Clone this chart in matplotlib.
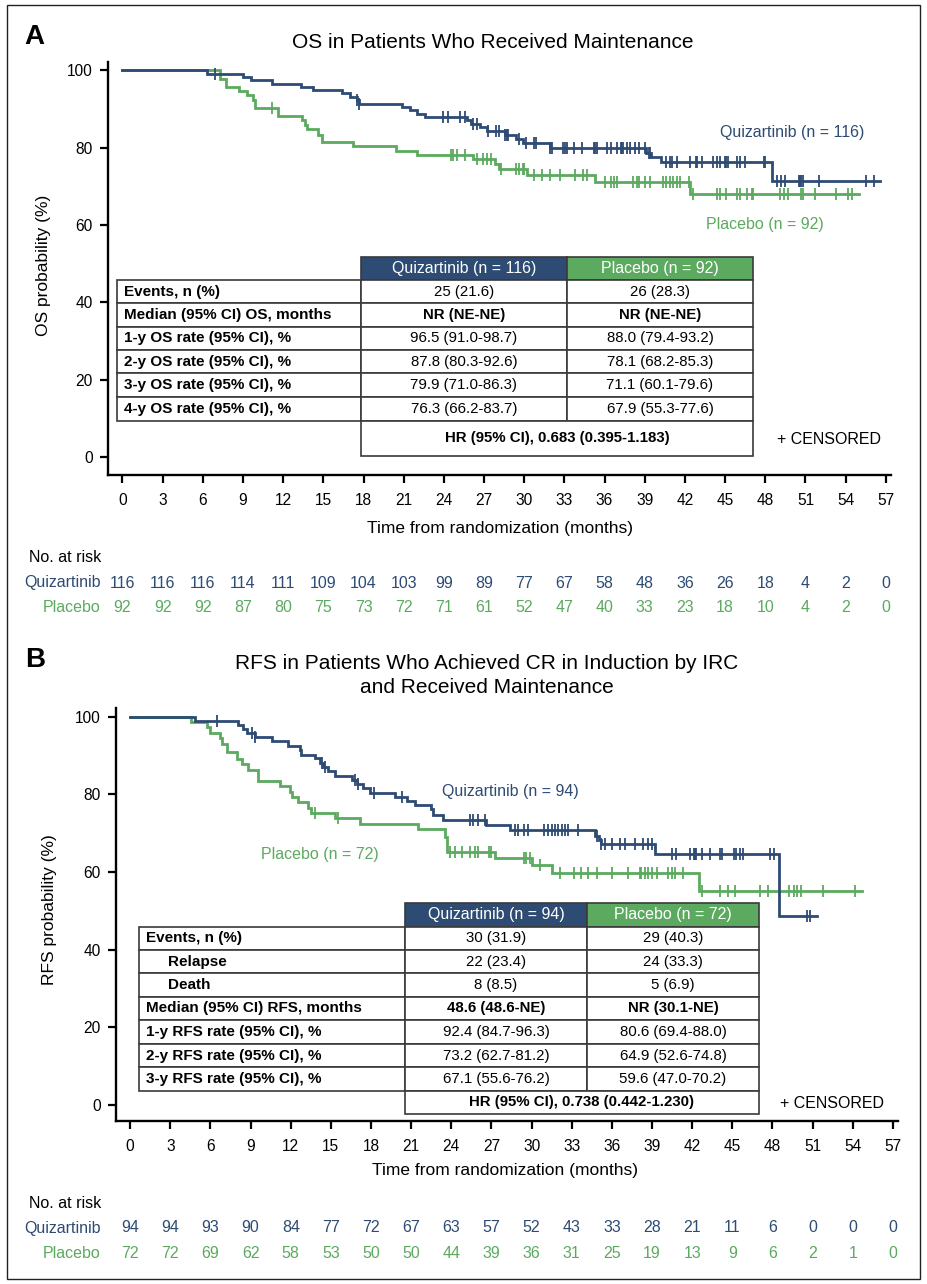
import numpy as np
import matplotlib
matplotlib.use('Agg')
import matplotlib.pyplot as plt
from matplotlib.patches import Rectangle
from matplotlib.transforms import blended_transform_factory

# ---- colours / fonts ----
BLUE = '#2D4B73'
GREEN = '#5BAA5F'
EDGE = '#3a3a3a'
plt.rcParams['font.family'] = ['Liberation Sans', 'DejaVu Sans']
NARROW = ['Liberation Sans Narrow', 'Liberation Sans']

# ---- common axis data ----
months = np.arange(0, 58, 3)
yticks = [0, 20, 40, 60, 80, 100]

# ---- Panel A: OS (step start times and survival %) ----
os_q_t = [0, 6.29, 8.97, 9.57, 11.2, 13.3, 14.25, 16.4, 17.0, 17.5, 17.7, 20.85, 21.5, 21.97,
          22.6, 25.7, 26.0, 26.7, 27.2, 28.6, 29.4, 29.9, 31.9, 39.1, 39.5, 40.2, 48.5]
os_q_s = [100, 99.1, 98.3, 97.4, 96.5, 95.7, 94.8, 94.0, 93.1, 92.2, 91.3, 90.5, 89.7, 88.6,
          87.8, 87.0, 86.1, 85.2, 84.2, 83.2, 82.2, 81.1, 79.9, 78.7, 77.5, 76.3, 71.4]
os_q_end = 56.6
os_q_cens = [6.9, 17.5, 17.7, 23.96, 24.3, 25.2, 25.6, 26.2, 26.45, 27.3, 27.9, 28.1, 28.6, 28.7,
             28.8, 29.6, 30.1, 30.7, 30.9, 31.9, 32.05, 32.9, 33.05, 33.2, 33.7, 34.3, 35.2, 35.3,
             35.4, 36.2, 36.5, 36.9, 37.2, 37.3, 37.4, 37.7, 37.9, 38.3, 38.6, 39.0, 39.3, 39.4,
             40.6, 40.9, 41.0, 41.4, 42.4, 42.8, 42.9, 43.3, 44.1, 44.4, 44.6, 45.0, 45.1, 45.2,
             45.9, 46.1, 46.5, 47.9, 48.0, 48.9, 49.2, 49.5, 50.5, 50.6, 50.7, 50.8, 52.0, 55.5, 56.1]

os_p_t = [0, 7.28, 7.73, 8.73, 9.27, 9.72, 9.9, 11.6, 13.4, 13.6, 13.75, 14.6, 14.9, 17.2,
          20.4, 22.0, 26.2, 27.8, 28.1, 30.2, 35.3, 42.4]
os_p_s = [100, 97.8, 95.7, 94.6, 93.5, 92.4, 90.2, 88.1, 87.0, 85.8, 84.7, 83.2, 81.3, 80.3,
          79.2, 78.1, 77.0, 75.7, 74.4, 73.0, 71.1, 67.9]
os_p_end = 55.0
os_p_cens = [11.2, 24.5, 24.7, 25.0, 25.6, 26.45, 26.95, 27.2, 27.5, 28.3, 29.4, 29.6, 29.9,
             30.0, 30.7, 31.3, 31.9, 32.7, 33.8, 34.4, 34.7, 36.0, 36.5, 36.7, 36.9, 38.1, 38.4,
             38.6, 39.0, 39.4, 40.4, 40.6, 40.9, 41.1, 41.4, 41.6, 42.3, 42.6, 44.4, 44.6, 45.1,
             45.9, 46.1, 46.6, 47.0, 47.1, 49.1, 49.4, 49.7, 50.7, 50.8, 51.7, 53.3, 54.2, 54.5]

os_risk_q = [116, 116, 116, 114, 111, 109, 104, 103, 99, 89, 77, 67, 58, 48, 36, 26, 18, 4, 2, 0]
os_risk_p = [92, 92, 92, 87, 80, 75, 73, 72, 71, 61, 52, 47, 40, 33, 23, 18, 10, 4, 2, 0]

os_labels = ['Events, n (%)', 'Median (95% CI) OS, months', '1-y OS rate (95% CI), %',
             '2-y OS rate (95% CI), %', '3-y OS rate (95% CI), %', '4-y OS rate (95% CI), %']
os_vals_q = ['25 (21.6)', 'NR (NE-NE)', '96.5 (91.0-98.7)', '87.8 (80.3-92.6)',
             '79.9 (71.0-86.3)', '76.3 (66.2-83.7)']
os_vals_p = ['26 (28.3)', 'NR (NE-NE)', '88.0 (79.4-93.2)', '78.1 (68.2-85.3)',
             '71.1 (60.1-79.6)', '67.9 (55.3-77.6)']
os_hr = 'HR (95% CI), 0.683 (0.395-1.183)'

# ---- Panel B: RFS ----
rfs_q_t = [0, 4.84, 8.08, 8.45, 8.7, 9.3, 10.57, 11.8, 12.7, 12.8, 13.8, 14.2, 14.4, 14.8, 15.3,
           16.55, 16.95, 17.4, 17.9, 19.8, 20.7, 21.3, 22.5, 22.65, 23.4, 26.6, 28.4, 34.7, 35.0,
           35.2, 39.2, 48.5]
rfs_q_s = [100, 98.9, 97.9, 96.8, 95.7, 94.7, 93.6, 92.4, 91.3, 90.2, 89.2, 88.1, 87.0, 85.9,
           84.8, 83.7, 82.6, 81.5, 80.4, 79.4, 78.3, 77.2, 76.1, 74.7, 73.3, 72.0, 70.9, 69.2,
           68.2, 67.1, 64.7, 48.6]
rfs_q_end = 51.3
rfs_q_cens = [6.46, 9.08, 9.33, 14.3, 14.56, 16.8, 17.05, 18.2, 20.3, 25.4, 25.6, 26.0, 26.5,
              28.75, 29.0, 29.4, 29.75, 30.9, 31.25, 31.5, 31.75, 32.0, 32.25, 32.5, 32.7, 33.5,
              34.9, 35.2, 35.5, 36.0, 36.6, 37.0, 37.7, 38.3, 38.7, 39.0, 40.5, 40.8, 41.8, 42.1,
              42.2, 42.3, 42.7, 43.3, 44.1, 44.2, 45.1, 45.3, 45.6, 45.8, 47.8, 48.1, 50.6, 50.8]

rfs_p_t = [0, 4.52, 5.72, 5.95, 6.7, 6.84, 7.2, 7.96, 8.33, 8.83, 9.57, 11.2, 11.95, 12.1, 12.56,
           13.3, 13.5, 15.3, 17.2, 21.5, 23.55, 23.7, 27.3, 30.0, 31.5, 42.5]
rfs_p_s = [100, 98.6, 97.2, 95.8, 94.4, 93.0, 90.9, 89.0, 87.7, 86.2, 83.4, 82.0, 80.6, 79.2,
           78.0, 76.5, 75.2, 73.9, 72.3, 71.1, 69.1, 65.2, 63.5, 61.9, 59.6, 55.1]
rfs_p_end = 54.7
rfs_p_cens = [13.8, 15.5, 23.9, 24.3, 24.8, 25.4, 25.8, 26.0, 26.8, 26.95, 29.4, 29.6, 29.9,
              30.6, 32.1, 33.2, 33.7, 34.2, 34.9, 36.0, 37.2, 38.1, 38.2, 38.5, 38.7, 39.0,
              39.35, 40.2, 40.5, 40.7, 41.3, 42.7, 44.1, 44.7, 45.2, 47.1, 47.7, 49.2, 49.6,
              49.8, 50.1, 51.8, 54.2]

rfs_risk_q = [94, 94, 93, 90, 84, 77, 72, 67, 63, 57, 52, 43, 33, 28, 21, 11, 6, 0, 0, 0]
rfs_risk_p = [72, 72, 69, 62, 58, 53, 50, 50, 44, 39, 36, 31, 25, 19, 13, 9, 6, 2, 1, 0]

rfs_labels = ['Events, n (%)', 'Relapse', 'Death', 'Median (95% CI) RFS, months',
              '1-y RFS rate (95% CI), %', '2-y RFS rate (95% CI), %', '3-y RFS rate (95% CI), %']
rfs_vals_q = ['30 (31.9)', '22 (23.4)', '8 (8.5)', '48.6 (48.6-NE)', '92.4 (84.7-96.3)',
              '73.2 (62.7-81.2)', '67.1 (55.6-76.2)']
rfs_vals_p = ['29 (40.3)', '24 (33.3)', '5 (6.9)', 'NR (30.1-NE)', '80.6 (69.4-88.0)',
              '64.9 (52.6-74.8)', '59.6 (47.0-70.2)']
rfs_hr = 'HR (95% CI), 0.738 (0.442-1.230)'

# ---- figure, pixel-based layout ----
W, H = 928, 1284
fig = plt.figure(figsize=(W / 100, H / 100), dpi=100)


def px_axes(left, top, right, bottom):
    return fig.add_axes([left / W, 1 - bottom / H, (right - left) / W, (bottom - top) / H])


axA = px_axes(108, 62, 891, 475)
axB = px_axes(116, 708, 898, 1121)
ov = fig.add_axes([0, 0, 1, 1], zorder=5)
ov.set_xlim(0, W)
ov.set_ylim(H, 0)
ov.axis('off')


def km_curve(ax, t, s, t_end, cens, color):
    t = np.asarray(t)
    s = np.asarray(s)
    ax.step(np.append(t, t_end), np.append(s, s[-1]), where='post', color=color, lw=2.0,
            solid_joinstyle='miter')
    cens = np.asarray(cens)
    cs = s[np.searchsorted(t, cens, side='right') - 1]
    ax.plot(cens, cs, ls='none', marker='|', ms=9, mew=1.3, color=color)


def style_axes(ax, xlim, ylim):
    ax.set_xlim(xlim)
    ax.set_ylim(ylim)
    ax.spines[['top', 'right']].set_visible(False)
    ax.spines[['left', 'bottom']].set_linewidth(1.7)
    ax.set_xticks(months)
    ax.set_yticks(yticks)
    ax.tick_params(direction='out', length=5.8, width=1.6, labelsize=11.2)
    ax.tick_params(axis='x', pad=7)
    ax.tick_params(axis='y', pad=5)
    ax.patch.set_alpha(0)


def draw_table(col_x, row_y, headers, labels, vq, vp, bold_row, indent_rows, hr_text):
    x0, x1, x2, x3 = col_x
    for xa, xb, fc, txt in ((x1, x2, BLUE, headers[0]), (x2, x3, GREEN, headers[1])):
        ov.add_patch(Rectangle((xa, row_y[0]), xb - xa, row_y[1] - row_y[0], fc=fc, ec=EDGE, lw=1.2))
        ov.text((xa + xb) / 2, (row_y[0] + row_y[1]) / 2, txt, color='white', ha='center',
                va='center', fontsize=11.5)
    for i, lab in enumerate(labels):
        ya, yb = row_y[i + 1], row_y[i + 2]
        yc = (ya + yb) / 2
        for xa, xb in ((x0, x1), (x1, x2), (x2, x3)):
            ov.add_patch(Rectangle((xa, ya), xb - xa, yb - ya, fc='white', ec=EDGE, lw=1.2))
        indent = 22 if i in indent_rows else 0
        ov.text(x0 + 7 + indent, yc, lab, ha='left', va='center', fontsize=11, fontweight='bold')
        fw = 'bold' if i == bold_row else 'normal'
        ov.text((x1 + x2) / 2, yc, vq[i], ha='center', va='center', fontsize=10.8, fontweight=fw)
        ov.text((x2 + x3) / 2, yc, vp[i], ha='center', va='center', fontsize=10.8, fontweight=fw)
    ya, yb = row_y[-2], row_y[-1]
    ov.add_patch(Rectangle((x1, ya), x3 - x1, yb - ya, fc='white', ec=EDGE, lw=1.2))
    ov.text((x1 + x3) / 2, (ya + yb) / 2, hr_text, ha='center', va='center', fontsize=10.8,
            fontweight='bold')


def risk_table(ax, y_head, y_q, y_p, rq, rp):
    tr = blended_transform_factory(ax.transData, ov.transData)
    ov.text(101, y_head, 'No. at risk', ha='right', va='center', fontsize=11.5)
    ov.text(101, y_q, 'Quizartinib', ha='right', va='center', fontsize=11.5, color=BLUE)
    ov.text(101, y_p, 'Placebo', ha='right', va='center', fontsize=11.5, color=GREEN)
    for m, a, b in zip(months, rq, rp):
        ax.text(m, y_q, str(a), transform=tr, ha='center', va='center', fontsize=11.5,
                color=BLUE, clip_on=False)
        ax.text(m, y_p, str(b), transform=tr, ha='center', va='center', fontsize=11.5,
                color=GREEN, clip_on=False)


# ---- Panel A ----
style_axes(axA, (-1.08, 57.39), (-4.65, 102.1))
km_curve(axA, os_p_t, os_p_s, os_p_end, os_p_cens, GREEN)
km_curve(axA, os_q_t, os_q_s, os_q_end, os_q_cens, BLUE)
axA.text(50.0, 84.0, 'Quizartinib (n = 116)', color=BLUE, ha='center', va='center', fontsize=11.5)
axA.text(48.0, 60.2, 'Placebo (n = 92)', color=GREEN, ha='center', va='center', fontsize=11.5)

ov.text(34, 37, 'A', fontsize=20, fontweight='bold', ha='center', va='center')
ov.text(493, 43, 'OS in Patients Who Received Maintenance', fontsize=15, ha='center', va='center')
ov.text(44, 265, 'OS probability (%)', rotation=90, ha='center', va='center', fontsize=12.5,
        family=NARROW)
ov.text(500, 528, 'Time from randomization (months)', ha='center', va='center', fontsize=12.5,
        family=NARROW)
draw_table([117, 361, 567, 753], [257, 280, 303.3, 326.7, 350, 373.3, 396.7, 420.7, 456],
           ['Quizartinib (n = 116)', 'Placebo (n = 92)'], os_labels, os_vals_q, os_vals_p,
           bold_row=1, indent_rows=[], hr_text=os_hr)
ov.text(829, 440, '+ CENSORED', ha='center', va='center', fontsize=11.5)
risk_table(axA, 557, 583, 608, os_risk_q, os_risk_p)

# ---- Panel B ----
style_axes(axB, (-1.06, 57.38), (-4.12, 102.2))
km_curve(axB, rfs_p_t, rfs_p_s, rfs_p_end, rfs_p_cens, GREEN)
km_curve(axB, rfs_q_t, rfs_q_s, rfs_q_end, rfs_q_cens, BLUE)
axB.text(28.4, 80.6, 'Quizartinib (n = 94)', color=BLUE, ha='center', va='center', fontsize=11.5)
axB.text(14.2, 64.4, 'Placebo (n = 72)', color=GREEN, ha='center', va='center', fontsize=11.5)

ov.text(35, 660, 'B', fontsize=20, fontweight='bold', ha='center', va='center')
ov.text(487, 675.5, 'RFS in Patients Who Achieved CR in Induction by IRC\nand Received Maintenance',
        fontsize=15, ha='center', va='center', multialignment='center', linespacing=1.3)
ov.text(50, 910, 'RFS probability (%)', rotation=90, ha='center', va='center', fontsize=12.5,
        family=NARROW)
ov.text(505, 1170, 'Time from randomization (months)', ha='center', va='center', fontsize=12.5,
        family=NARROW)
draw_table([139, 405, 587, 759],
           [903.3, 926.7, 950, 973.3, 996.7, 1020, 1044, 1067.3, 1090.7, 1114],
           ['Quizartinib (n = 94)', 'Placebo (n = 72)'], rfs_labels, rfs_vals_q, rfs_vals_p,
           bold_row=3, indent_rows=[1, 2], hr_text=rfs_hr)
ov.text(832, 1104, '+ CENSORED', ha='center', va='center', fontsize=11.5)
risk_table(axB, 1204, 1228, 1253, rfs_risk_q, rfs_risk_p)

# outer frame
ov.add_patch(Rectangle((7, 5), 913, 1274, fill=False, ec='#222222', lw=1.0))

fig.savefig('out.png', dpi=100)
